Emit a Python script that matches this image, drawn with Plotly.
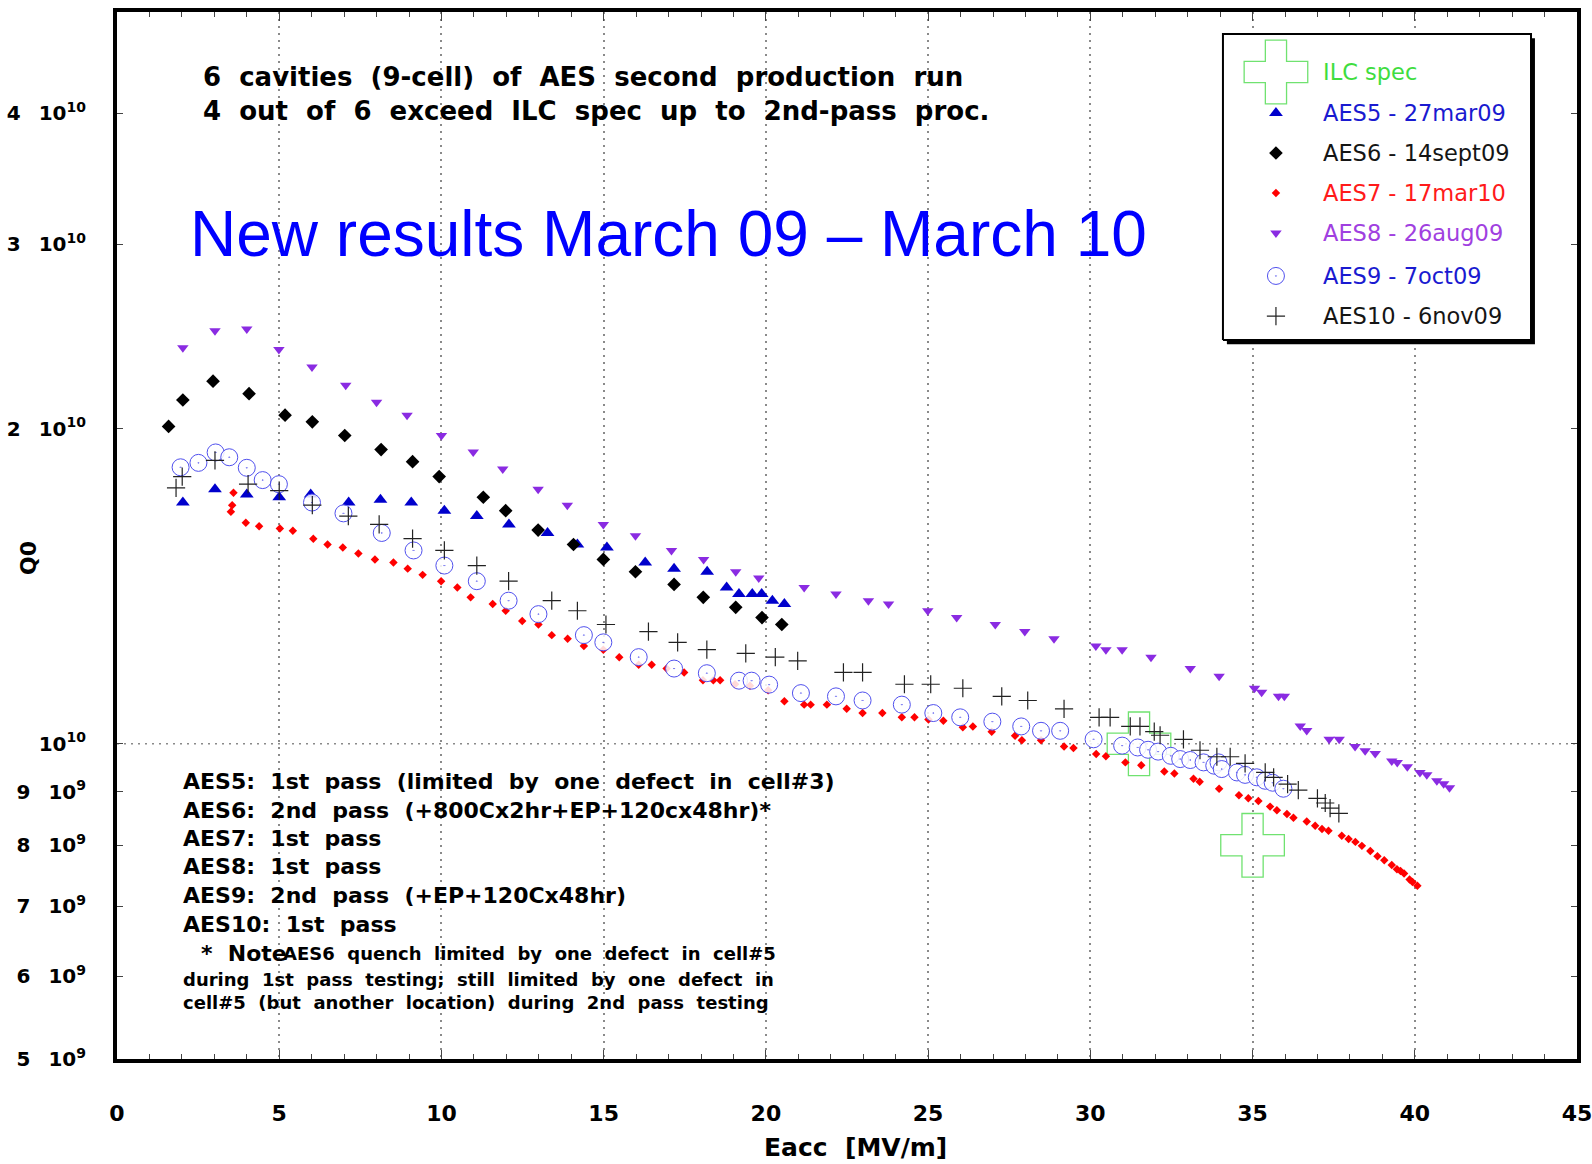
import math
import numpy as np
import plotly.graph_objects as go

# ---- measured data: Eacc [MV/m] and Q0 [units of 1e10] ----
aes5_eacc = [2.03, 3.02, 4.00, 5.00, 5.97, 7.14, 8.12, 9.07, 10.09, 11.09, 12.08, 13.27,
             14.19, 15.10, 16.28, 17.17, 18.19, 18.79, 19.17, 19.58, 19.87, 20.20, 20.57]
aes5_q0 = [1.70, 1.75, 1.73, 1.72, 1.73, 1.70, 1.71, 1.70, 1.67, 1.65, 1.62, 1.59,
           1.55, 1.54, 1.49, 1.47, 1.46, 1.41, 1.39, 1.39, 1.39, 1.37, 1.36]

aes6_eacc = [1.59, 2.03, 2.96, 4.07, 5.18, 6.02, 7.02, 8.14, 9.11, 9.93, 11.29, 11.98,
             12.98, 14.07, 14.99, 15.98, 17.17, 18.07, 19.07, 19.88, 20.49]
aes6_q0 = [2.01, 2.13, 2.22, 2.16, 2.06, 2.03, 1.97, 1.91, 1.86, 1.80, 1.72, 1.67,
           1.60, 1.55, 1.50, 1.46, 1.42, 1.38, 1.35, 1.32, 1.30]

aes7_eacc = [3.51, 3.55, 3.59, 3.97, 4.38, 5.02, 5.42, 6.05, 6.49, 6.96, 7.44, 7.95,
             8.52, 8.96, 9.42, 9.99, 10.49, 10.90, 11.58, 11.98, 12.49, 12.99, 13.40,
             13.89, 14.39, 14.99, 15.48, 16.08, 16.48, 16.94, 17.48, 18.06, 18.38, 18.59,
             19.05, 19.51, 20.07, 20.57, 21.18, 21.38, 21.88, 22.49, 22.98, 23.59, 24.19,
             24.58, 25.01, 25.47, 26.07, 26.38, 26.96, 27.68, 27.89, 28.48, 29.19, 29.48,
             30.18, 30.48, 31.08, 31.57, 32.28, 32.59, 33.18, 33.37, 33.97, 34.58, 34.87,
             35.18, 35.54, 35.75, 36.06, 36.26, 36.67, 36.93, 37.14, 37.34, 37.75, 37.96,
             38.17, 38.37, 38.63, 38.85, 39.06, 39.29, 39.45, 39.56, 39.67, 39.84, 39.93,
             40.08]
aes7_q0 = [1.666, 1.69, 1.737, 1.626, 1.614, 1.606, 1.598, 1.57, 1.55, 1.54, 1.52, 1.50,
           1.49, 1.47, 1.45, 1.43, 1.41, 1.38, 1.36, 1.34, 1.31, 1.30, 1.27,
           1.26, 1.24, 1.23, 1.21, 1.19, 1.19, 1.18, 1.17, 1.15, 1.15, 1.15,
           1.14, 1.136, 1.125, 1.098, 1.09, 1.09, 1.09, 1.08, 1.07, 1.07, 1.06,
           1.06, 1.055, 1.052, 1.037, 1.039, 1.027, 1.018, 1.008, 1.008, 0.994, 0.991,
           0.978, 0.973, 0.960, 0.954, 0.941, 0.937, 0.926, 0.920, 0.906, 0.893, 0.887,
           0.882, 0.871, 0.864, 0.857, 0.850, 0.843, 0.835, 0.829, 0.826, 0.817, 0.811,
           0.806, 0.799, 0.790, 0.781, 0.774, 0.766, 0.759, 0.756, 0.752, 0.742, 0.738,
           0.732]

aes8_eacc = [2.03, 3.02, 4.00, 4.99, 6.01, 7.05, 8.00, 8.94, 10.00, 10.98, 11.89, 12.98,
             13.88, 14.99, 15.98, 17.09, 18.08, 19.07, 19.78, 21.18, 22.16, 23.16, 23.78,
             24.99, 25.88, 27.07, 27.98, 28.88, 30.17, 30.48, 30.98, 31.87, 33.08, 33.97,
             35.06, 35.28, 35.80, 35.98, 36.47, 36.67, 37.36, 37.67, 38.16, 38.47, 38.78,
             39.29, 39.46, 39.77, 40.16, 40.37, 40.68, 40.89, 41.07]
aes8_q0 = [2.39, 2.48, 2.49, 2.38, 2.29, 2.20, 2.12, 2.06, 1.97, 1.90, 1.83, 1.75,
           1.69, 1.62, 1.58, 1.53, 1.50, 1.46, 1.44, 1.41, 1.39, 1.37, 1.36,
           1.34, 1.32, 1.30, 1.28, 1.26, 1.24, 1.23, 1.23, 1.21, 1.18, 1.16,
           1.13, 1.12, 1.11, 1.11, 1.04, 1.03, 1.01, 1.01, 0.994, 0.985, 0.979,
           0.963, 0.960, 0.951, 0.939, 0.934, 0.922, 0.916, 0.908]

aes9_eacc = [1.96, 2.51, 3.04, 3.46, 4.00, 4.49, 4.99, 6.01, 6.98, 8.16, 9.14, 10.09,
             11.09, 12.07, 12.99, 14.39, 14.99, 16.08, 17.17, 18.18, 19.17, 19.56, 20.10,
             21.08, 22.16, 22.98, 24.19, 25.16, 25.99, 26.98, 27.87, 28.48, 29.07, 30.10,
             30.98, 31.46, 31.78, 32.09, 32.48, 32.77, 33.08, 33.49, 33.82, 33.95, 34.05,
             34.52, 34.77, 35.13, 35.39, 35.62, 35.95]
aes9_q0 = [1.837, 1.855, 1.898, 1.878, 1.835, 1.786, 1.77, 1.70, 1.66, 1.59, 1.53, 1.48,
           1.43, 1.37, 1.33, 1.27, 1.25, 1.21, 1.18, 1.168, 1.149, 1.149, 1.139,
           1.118, 1.11, 1.10, 1.09, 1.07, 1.06, 1.05, 1.039, 1.029, 1.029, 1.01,
           0.996, 0.992, 0.987, 0.983, 0.974, 0.967, 0.965, 0.960, 0.953, 0.960, 0.946,
           0.939, 0.934, 0.929, 0.922, 0.918, 0.906]

aes10_eacc = [1.82, 2.01, 3.02, 4.04, 5.00, 6.02, 7.13, 8.08, 9.11, 10.09, 11.09, 12.07,
              13.40, 14.19, 15.07, 16.38, 17.28, 18.18, 19.38, 20.29, 20.98, 22.39, 22.98,
              24.27, 25.08, 26.07, 27.27, 28.07, 29.19, 30.27, 30.61, 31.23, 31.53, 31.97,
              32.15, 32.87, 33.38, 33.90, 34.31, 34.77, 35.39, 35.65, 36.08, 36.41, 37.00,
              37.24, 37.39, 37.66]
aes10_q0 = [1.756, 1.80, 1.865, 1.77, 1.745, 1.69, 1.65, 1.62, 1.57, 1.53, 1.48, 1.43,
            1.37, 1.34, 1.30, 1.28, 1.25, 1.23, 1.22, 1.21, 1.20, 1.17, 1.17,
            1.14, 1.14, 1.13, 1.11, 1.10, 1.08, 1.06, 1.06, 1.039, 1.039, 1.027,
            1.019, 1.01, 0.986, 0.972, 0.972, 0.958, 0.939, 0.929, 0.915, 0.903, 0.887,
            0.878, 0.868, 0.858]

ilc_eacc = [31.5, 35.0]
ilc_q0 = [1.0, 0.8]

x_tick_vals = [0, 5, 10, 15, 20, 25, 30, 35, 40, 45]
y_tick_vals = [5e9, 6e9, 7e9, 8e9, 9e9, 1e10, 2e10, 3e10, 4e10]
GAP = "\u00a0\u00a0\u2009"
y_tick_text = ["5" + GAP + "10<sup>9</sup>", "6" + GAP + "10<sup>9</sup>",
               "7" + GAP + "10<sup>9</sup>", "8" + GAP + "10<sup>9</sup>",
               "9" + GAP + "10<sup>9</sup>", "10<sup>10</sup>",
               "2" + GAP + "10<sup>10</sup>", "3" + GAP + "10<sup>10</sup>",
               "4" + GAP + "10<sup>10</sup>"]

legend_labels = ["ILC spec", "AES5 - 27mar09", "AES6 - 14sept09", "AES7 - 17mar10",
                 "AES8 - 26aug09", "AES9 - 7oct09", "AES10 - 6nov09"]

CHART_FONT = "DejaVu Sans"
SLIDE_FONT = "Liberation Sans"


def q(vals):
    return np.array(vals) * 1e10


def wide(s):
    # keep the doubled word gaps of the printed text
    return s.replace("  ", "\u00a0\u00a0")


# marker styles per series
styles = {
    "ilc": dict(symbol="cross-open", size=53, color="#70E270", line=dict(width=1.3, color="#70E270")),
    "aes8": dict(symbol="triangle-down", size=10, color="#8A2BE2", line=dict(width=0)),
    "aes5": dict(symbol="triangle-up", size=12, color="#0000CC", line=dict(width=0)),
    "aes6": dict(symbol="diamond", size=10.5, color="#000000", line=dict(width=0)),
    "aes7": dict(symbol="diamond", size=6.5, color="#FF0000", line=dict(width=0)),
    "aes9": dict(symbol="circle-dot", size=17, color="rgba(255,255,255,0.85)",
                 line=dict(width=1, color="#5050EE")),
    "aes10": dict(symbol="cross-thin-open", size=13, color="#222222",
                  line=dict(width=1.2, color="#222222")),
}

series = [
    ("ilc", ilc_eacc, ilc_q0),
    ("aes8", aes8_eacc, aes8_q0),
    ("aes5", aes5_eacc, aes5_q0),
    ("aes6", aes6_eacc, aes6_q0),
    ("aes7", aes7_eacc, aes7_q0),
    ("aes9", aes9_eacc, aes9_q0),
    ("aes10", aes10_eacc, aes10_q0),
]

fig = go.Figure()

# dotted reference line at Q0 = 1e10
fig.add_trace(go.Scatter(x=[0, 45], y=[1e10, 1e10], mode="lines",
                         line=dict(color="#8a8a8a", width=1.5, dash="2px,5px"),
                         hoverinfo="skip", showlegend=False))

for key, xs, ys in series:
    fig.add_trace(go.Scatter(x=xs, y=q(ys), mode="markers", marker=styles[key],
                             name=key, showlegend=False))

# ---- legend panel on overlay axes spanning the plot area (0..1) ----
box_x0, box_x1, box_y0, box_y1 = 0.7575, 0.9685, 0.6867, 0.979
shadow_dx, shadow_dy = 0.0027, 0.0040

fig.add_trace(go.Scatter(
    x=[box_x0 + shadow_dx, box_x1 + shadow_dx, box_x1 + shadow_dx, box_x0 + shadow_dx, box_x0 + shadow_dx],
    y=[box_y0 - shadow_dy, box_y0 - shadow_dy, box_y1 - shadow_dy, box_y1 - shadow_dy, box_y0 - shadow_dy],
    mode="lines", fill="toself", fillcolor="#000000", line=dict(color="#000000", width=0),
    xaxis="x2", yaxis="y2", hoverinfo="skip", showlegend=False))
fig.add_trace(go.Scatter(
    x=[box_x0, box_x1, box_x1, box_x0, box_x0],
    y=[box_y0, box_y0, box_y1, box_y1, box_y0],
    mode="lines", fill="toself", fillcolor="#FFFFFF", line=dict(color="#000000", width=2),
    xaxis="x2", yaxis="y2", hoverinfo="skip", showlegend=False))

legend_key_order = ["ilc", "aes5", "aes6", "aes7", "aes8", "aes9", "aes10"]
legend_text_colors = ["#3FDD3F", "#1A1AD0", "#151515", "#FF1A1A", "#A040E0", "#1A1AD0", "#151515"]
legend_rows = [0.9427, 0.9035, 0.8653, 0.8271, 0.7889, 0.7479, 0.7096]
legend_marker_x = 0.7938
legend_text_x = 0.8247

for key, ry in zip(legend_key_order, legend_rows):
    fig.add_trace(go.Scatter(x=[legend_marker_x], y=[ry], mode="markers",
                             marker=styles[key], xaxis="x2", yaxis="y2",
                             hoverinfo="skip", showlegend=False))

annotations = []
for label, col, ry in zip(legend_labels, legend_text_colors, legend_rows):
    annotations.append(dict(x=legend_text_x, y=ry, text=label,
                            font=dict(family=CHART_FONT, size=22.5, color=col)))

# ---- headline texts ----
annotations += [
    dict(x=0.0575, y=0.9379, text="<b>" + wide("6  cavities  (9-cell)  of  AES  second  production  run") + "</b>",
         font=dict(family=CHART_FONT, size=26, color="#000000")),
    dict(x=0.0575, y=0.9054, text="<b>" + wide("4  out  of  6  exceed  ILC  spec  up  to  2nd-pass  proc.") + "</b>",
         font=dict(family=CHART_FONT, size=26, color="#000000")),
    dict(x=0.0486, y=0.7884, text="New results March 09 \u2013 March 10",
         font=dict(family=SLIDE_FONT, size=64, color="#0000FF")),
]

notes = [
    ("AES5:  1st  pass  (limited  by  one  defect  in  cell#3)", 0.2646),
    ("AES6:  2nd  pass  (+800Cx2hr+EP+120cx48hr)*", 0.2378),
    ("AES7:  1st  pass", 0.2105),
    ("AES8:  1st  pass", 0.1834),
    ("AES9:  2nd  pass  (+EP+120Cx48hr)", 0.1562),
    ("AES10:  1st  pass", 0.1289),
]
for txt, ny in notes:
    annotations.append(dict(x=0.0438, y=ny, text="<b>" + wide(txt) + "</b>",
                            font=dict(family=CHART_FONT, size=22, color="#000000")))

annotations += [
    dict(x=0.0561, y=0.1003, text="<b>" + wide("*  Note") + "</b>",
         font=dict(family=CHART_FONT, size=22, color="#000000")),
    dict(x=0.1123, y=0.1003, text="<b>" + wide("AES6  quench  limited  by  one  defect  in  cell#5") + "</b>",
         font=dict(family=CHART_FONT, size=18, color="#000000")),
    dict(x=0.0438, y=0.0764, text="<b>" + wide("during  1st  pass  testing;  still  limited  by  one  defect  in") + "</b>",
         font=dict(family=CHART_FONT, size=18, color="#000000")),
    dict(x=0.0438, y=0.0535, text="<b>" + wide("cell#5  (but  another  location)  during  2nd  pass  testing") + "</b>",
         font=dict(family=CHART_FONT, size=18, color="#000000")),
]
for a in annotations:
    a.setdefault("xref", "paper")
    a.setdefault("yref", "paper")
    a.setdefault("showarrow", False)
    a.setdefault("xanchor", "left")
    a.setdefault("yanchor", "middle")

# axis titles
annotations += [
    dict(x=-0.061, y=0.4785, xref="paper", yref="paper", showarrow=False, textangle=-90,
         text="<b>Q0</b>", font=dict(family=CHART_FONT, size=22, color="#000000"),
         xanchor="center", yanchor="middle"),
    dict(x=0.506, y=-0.085, xref="paper", yref="paper", showarrow=False,
         text="<b>" + wide("Eacc  [MV/m]") + "</b>", font=dict(family=CHART_FONT, size=25, color="#000000"),
         xanchor="center", yanchor="middle"),
]

x_tick_font = dict(family=CHART_FONT, size=22, color="#000000", weight="bold")
y_tick_font = dict(family=CHART_FONT, size=20, color="#000000", weight="bold")

fig.update_layout(
    width=1592, height=1164,
    margin=dict(l=117, r=15, t=12, b=105, autoexpand=False),
    paper_bgcolor="#FFFFFF", plot_bgcolor="#FFFFFF",
    showlegend=False,
    annotations=annotations,
    xaxis=dict(range=[0, 45], tickvals=x_tick_vals, ticks="inside", ticklen=9, tickwidth=1.2,
               tickcolor="#444444", showline=True, linewidth=4, linecolor="#000000",
               mirror="allticks", showgrid=True, gridcolor="#8a8a8a", gridwidth=1.5,
               griddash="2px,5px", zeroline=False, tickfont=x_tick_font, automargin=False,
               ticklabelstandoff=32, ticklabeloverflow="allow",
               minor=dict(dtick=1, ticks="inside", ticklen=5, tickcolor="#444444",
                          tickwidth=1, showgrid=False)),
    yaxis=dict(type="log", range=[math.log10(5e9), math.log10(5e10)],
               tickvals=y_tick_vals, ticktext=y_tick_text, ticks="inside", ticklen=6,
               tickwidth=1.2, tickcolor="#444444", showline=True, linewidth=4,
               linecolor="#000000", mirror="allticks", showgrid=False, zeroline=False,
               tickfont=y_tick_font, ticklabelstandoff=23, automargin=False),
    xaxis2=dict(overlaying="x", range=[0, 1], visible=False, fixedrange=True),
    yaxis2=dict(overlaying="y", range=[0, 1], visible=False, fixedrange=True),
)

fig.write_html("out.html")
